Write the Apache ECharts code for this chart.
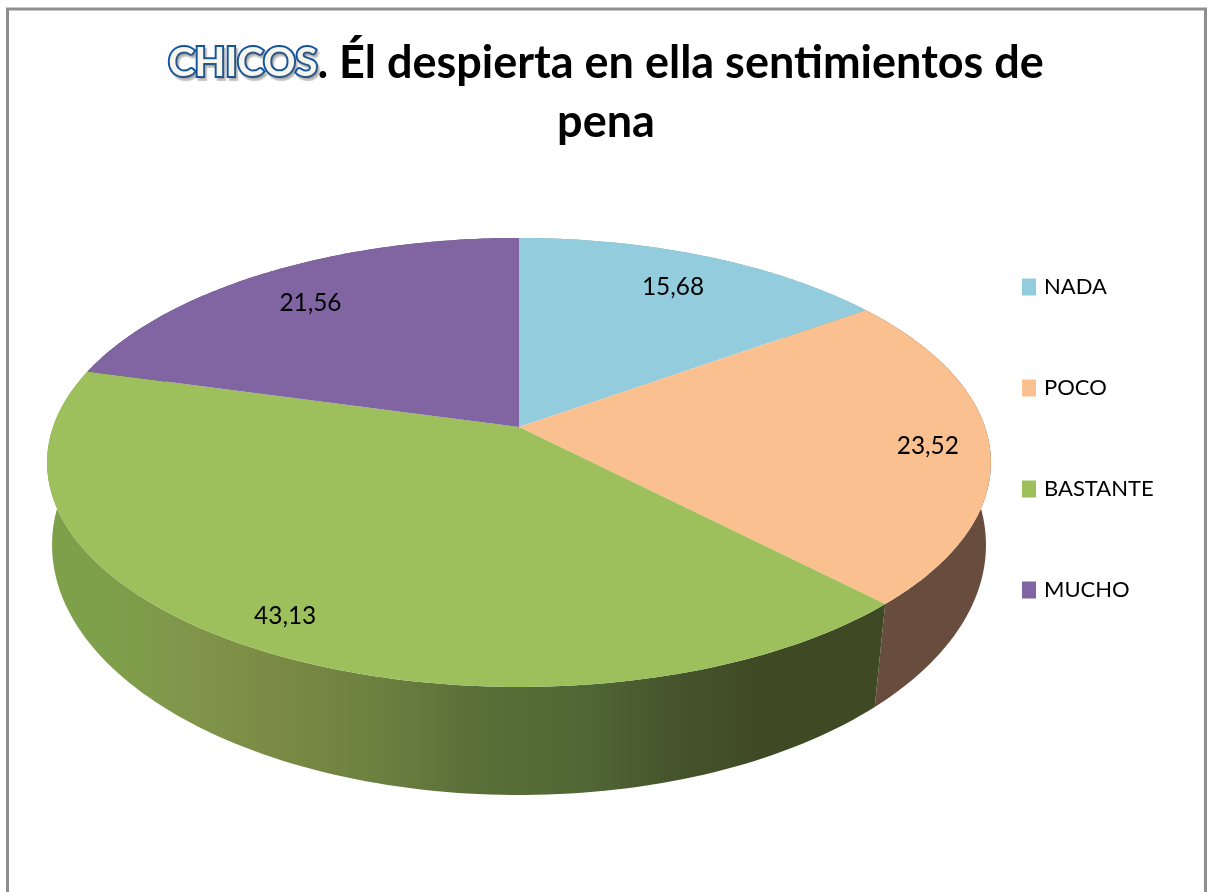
<!DOCTYPE html>
<html>
<head>
<meta charset="utf-8">
<style>html,body{margin:0;padding:0;background:#fff}#c{width:1212px;height:892px}</style>
<script src="https://cdn.jsdelivr.net/npm/echarts@6/dist/echarts.min.js"></script>
</head>
<body>
<div id="c"></div>
<script>
const categories = ['NADA', 'POCO', 'BASTANTE', 'MUCHO'];
const values = [15.68, 23.52, 43.13, 21.56];
const topColors = ['#93cddd', '#fbc08f', '#9dbf5c', '#8165a3'];
const titleLead = 'CHICOS';
const titleRest = '. Él despierta en ella sentimientos de';
const titleSecond = 'pena';

// Style and layout constants (perspective disc, not data)
const labelReach = [0.8, 0.87, 0.87, 0.8];
const labelNudge = [[1, 0], [0, 2], [0, 3], [-3, 3]];
const topDisc = { cx: 519, y0: 427, a: 466, b: 218.9, k: 0.158 };
const baseDisc = { cx: 519, y0: 512.5, a: 463, b: 245.8, k: 0.13 };
const wallFills = [
  '#7ca0b0',
  '#684c3d',
  {
    type: 'linear', global: true, x: 50, y: 0, x2: 880, y2: 0,
    colorStops: [
      { offset: 0, color: '#7ea04a' },
      { offset: 0.06, color: '#7ea04a' },
      { offset: 0.18, color: '#80944a' },
      { offset: 0.277, color: '#7a8a44' },
      { offset: 0.4, color: '#6b8040' },
      { offset: 0.506, color: '#5a7038' },
      { offset: 0.64, color: '#516836' },
      { offset: 0.747, color: '#46552c' },
      { offset: 0.855, color: '#3f4a25' },
      { offset: 1, color: '#3f4a25' }
    ]
  },
  '#5f4a78'
];

const total = values.reduce((s, v) => s + v, 0);
const starts = values.map((_, i) => values.slice(0, i).reduce((s, v) => s + v, 0));

function project(disc, theta, r) {
  const u = r * Math.sin(theta), v = r * Math.cos(theta);
  const d = 1 + disc.k * v;
  return [disc.cx + disc.a * u / d, disc.y0 - disc.b * v / d];
}
function arc(disc, from, to) {
  const pts = [], n = 120;
  for (let i = 0; i <= n; i++) pts.push(project(disc, from + (to - from) * i / n, 1));
  return pts;
}
function span(index, value) {
  const a = starts[index] / total * Math.PI * 2;
  return [a, a + value / total * Math.PI * 2];
}
function decimal(v) { return v.toFixed(2).replace('.', ','); }

const wallSeries = categories.map((name, i) => ({
  type: 'custom', name: name + ' lateral', coordinateSystem: 'none', z: 1, silent: true,
  data: [[values[i]]],
  renderItem(params, api) {
    const [a, b] = span(i, api.value(0));
    const pts = arc(topDisc, a, b).concat(arc(baseDisc, a, b).reverse());
    return { type: 'polygon', shape: { points: pts }, style: { fill: wallFills[i], stroke: null } };
  }
}));

const topSeries = categories.map((name, i) => ({
  type: 'custom', name, coordinateSystem: 'none', z: 2, silent: true,
  itemStyle: { color: topColors[i] },
  data: [[values[i]]],
  renderItem(params, api) {
    const [a, b] = span(i, api.value(0));
    const pts = [project(topDisc, 0, 0)].concat(arc(topDisc, a, b));
    return { type: 'polygon', shape: { points: pts }, style: { fill: topColors[i], stroke: null } };
  }
}));

const labelSeries = {
  type: 'custom', name: 'valores', coordinateSystem: 'none', z: 3, silent: true,
  data: values.map(v => [v]),
  renderItem(params, api) {
    const i = params.dataIndex;
    const [a, b] = span(i, api.value(0));
    const p = project(topDisc, (a + b) / 2, labelReach[i]);
    return {
      type: 'text', x: p[0] + labelNudge[i][0], y: p[1] + labelNudge[i][1],
      style: { text: decimal(api.value(0)), fill: '#000', font: '24.4px Lato', align: 'center', verticalAlign: 'middle' }
    };
  }
};

const chart = echarts.init(document.getElementById('c'), null, { renderer: 'canvas' });
chart.setOption({
  animation: false,
  backgroundColor: '#fff',
  title: {
    left: 'center', top: 29,
    text: '{lead|' + titleLead + '}' + titleRest + '\n' + titleSecond,
    textStyle: {
      fontFamily: 'Lato', fontWeight: 'bold', fontSize: 45, color: '#000', lineHeight: 59,
      rich: {
        lead: {
          fontFamily: 'Lato', fontWeight: 'bold', fontSize: 40, color: '#f6f6ee', lineHeight: 59,
          textBorderColor: '#14549f', textBorderWidth: 4,
          textShadowColor: 'rgba(90,90,90,0.35)', textShadowOffsetX: 2, textShadowOffsetY: 3, textShadowBlur: 1
        }
      }
    }
  },
  legend: {
    orient: 'vertical', left: 1022, top: 276, padding: 0,
    data: categories, icon: 'rect', itemWidth: 14, itemHeight: 17, itemGap: 79,
    selectedMode: false,
    textStyle: { fontFamily: 'Lato', fontSize: 22, color: '#000', padding: [0, 0, 0, 3] }
  },
  graphic: [{
    type: 'polyline', silent: true, z: 10,
    shape: { points: [[7.5, 892], [7.5, 9], [1205.5, 9], [1205.5, 892]] },
    style: { stroke: '#8f8f8f', lineWidth: 3, fill: null }
  }],
  series: wallSeries.concat(topSeries, [labelSeries])
});
</script>
</body>
</html>
